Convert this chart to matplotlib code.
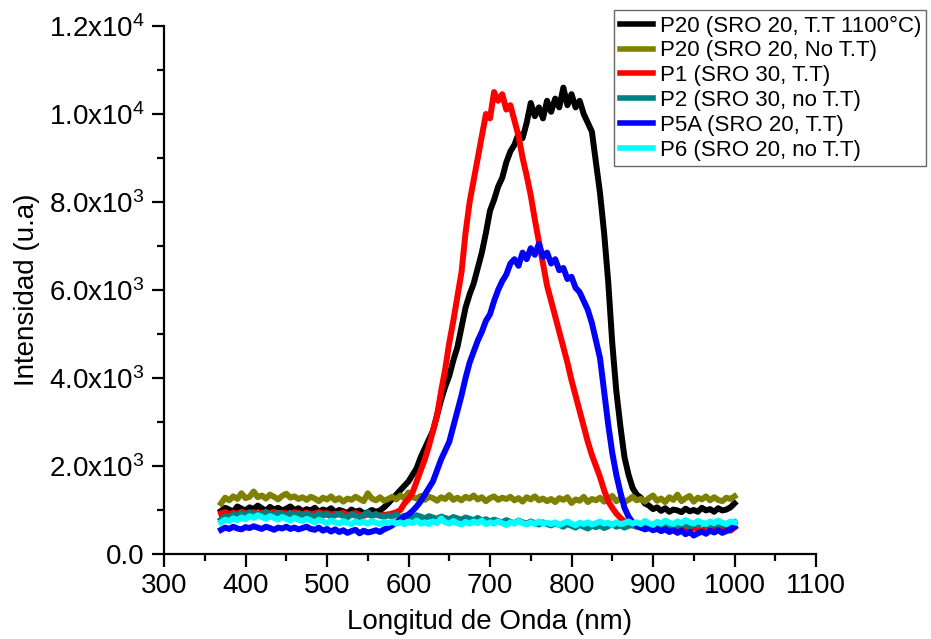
import numpy as np
import matplotlib.pyplot as plt
from matplotlib.ticker import MultipleLocator, FuncFormatter

plt.rcParams['font.family'] = ['Liberation Sans', 'DejaVu Sans']
plt.rcParams['mathtext.fontset'] = 'custom'
plt.rcParams['mathtext.rm'] = 'Liberation Sans'
plt.rcParams['mathtext.it'] = 'Liberation Sans'

# wavelength samples (nm), 370..1000 every 5 nm
wavelength = np.arange(370, 1001, 5)

p20_tt = [
    980, 1050, 1010, 960, 1080, 1030, 990, 1060, 1020, 1100, 1040, 980, 1070, 1010, 1050, 990, 1030, 1080, 1000, 1040, 970,
    1020, 990, 1050, 960, 1010, 980, 1040, 950, 1000, 970, 930, 1010, 960, 990, 920, 950, 1000, 960, 990, 1060,
    1150, 1250, 1350, 1450, 1550, 1650, 1800, 1950, 2200, 2400, 2600, 2800, 3150, 3500, 3800, 4050, 4400, 4700, 5150, 5600,
    5900, 6150, 6500, 6850, 7300, 7800, 8050, 8350, 8550, 8900, 9150, 9300, 9550, 9450, 9800, 10250, 9950, 10150, 9900, 10300,
    10050, 10350, 10150, 10600, 10200, 10450, 10150, 10300, 10000, 9800, 9600, 8900, 8200, 7300, 6200, 4800, 3700, 2900, 2200, 1800,
    1500, 1350, 1280, 1150, 1100, 1020, 1060, 980, 1040, 960, 1010, 990, 950, 1030, 970, 1000, 960, 1050, 990, 1020,
    960, 1040, 990, 1010, 1060, 1150,
]

p20_nott = [
    1150, 1280, 1220, 1310, 1250, 1380, 1270, 1300, 1420, 1290, 1330, 1260, 1350, 1300, 1240, 1320, 1370, 1280, 1310, 1250, 1290,
    1230, 1300, 1260, 1200, 1280, 1240, 1310, 1220, 1270, 1190, 1260, 1230, 1300, 1250, 1200, 1380, 1260, 1220, 1290, 1210,
    1250, 1300, 1240, 1330, 1270, 1400, 1290, 1260, 1320, 1230, 1300, 1270, 1210, 1290, 1250, 1340, 1230, 1280, 1220, 1300,
    1260, 1330, 1240, 1290, 1200, 1270, 1310, 1230, 1280, 1250, 1300, 1220, 1270, 1190, 1290, 1240, 1310, 1220, 1260, 1200,
    1250, 1180, 1270, 1230, 1290, 1160, 1240, 1210, 1300, 1180, 1250, 1220, 1280, 1190, 1240, 1320, 1200, 1260, 1180, 1230,
    1300, 1220, 1250, 1190, 1270, 1330, 1210, 1260, 1180, 1290, 1230, 1350, 1200, 1270, 1320, 1190, 1280, 1240, 1310, 1220,
    1290, 1230, 1200, 1280, 1250, 1310,
]

p1_tt = [
    920, 950, 900, 940, 910, 960, 930, 900, 950, 920, 940, 900, 930, 960, 910, 940, 920, 900, 950, 930, 910,
    940, 900, 920, 950, 910, 930, 890, 920, 900, 940, 880, 910, 930, 890, 870, 900, 880, 910, 870, 890,
    900, 920, 950, 1000, 1150, 1250, 1400, 1650, 1900, 2150, 2450, 2800, 3150, 3700, 4200, 4800, 5300, 5850, 6400, 7300,
    8000, 8500, 9000, 9500, 10000, 9900, 10500, 10300, 10450, 10100, 10200, 9850, 9500, 9000, 8600, 8150, 7600, 7100, 6600, 6100,
    5750, 5400, 5050, 4700, 4350, 3950, 3600, 3250, 2900, 2550, 2250, 2000, 1750, 1450, 1200, 1050, 920, 820, 740, 680,
    650, 620, 600, 580, 610, 570, 590, 560, 600, 550, 580, 540, 570, 590, 550, 600, 560, 530, 580, 550,
    570, 540, 590, 560, 530, 600,
]

p2_nott = [
    780, 850, 820, 900, 870, 930, 880, 950, 900, 920, 870, 960, 910, 880, 940, 900, 860, 930, 890, 920, 870,
    910, 880, 850, 920, 870, 900, 850, 880, 910, 860, 830, 900, 870, 840, 890, 950, 860, 900, 870, 840,
    880, 850, 900, 830, 870, 840, 820, 880, 850, 810, 860, 830, 800, 850, 820, 790, 840, 810, 780, 830,
    800, 770, 820, 760, 790, 740, 780, 750, 720, 770, 730, 700, 760, 720, 690, 740, 700, 670, 720, 680,
    650, 700, 660, 620, 680, 640, 600, 660, 620, 580, 640, 610, 650, 590, 630, 680, 620, 650, 600, 640,
    660, 620, 680, 640, 610, 670, 630, 690, 650, 620, 680, 640, 700, 660, 630, 690, 650, 710, 670, 640,
    690, 660, 700, 650, 680, 720,
]

p5a_tt = [
    550, 600, 570, 620, 580, 560, 610, 590, 630, 600, 570, 620, 590, 550, 600, 580, 620, 570, 600, 560, 590,
    620, 570, 550, 600, 530, 570, 510, 560, 500, 540, 480, 520, 550, 470, 530, 490, 510, 540, 500, 560,
    600, 650, 720, 780, 850, 900, 980, 1080, 1200, 1350, 1500, 1650, 1900, 2150, 2350, 2550, 2900, 3250, 3600, 4000,
    4350, 4600, 4850, 5050, 5300, 5450, 5750, 6000, 6200, 6350, 6600, 6700, 6550, 6850, 6700, 6950, 6800, 7050, 6750, 6850,
    6600, 6700, 6450, 6500, 6250, 6300, 6050, 5950, 5750, 5550, 5250, 4850, 4450, 3700, 2950, 2300, 1800, 1400, 1050, 850,
    720, 650, 600, 560, 590, 540, 570, 520, 560, 500, 540, 480, 530, 450, 500, 420, 470, 510, 460, 530,
    490, 540, 480, 520, 560, 620,
]

p6_nott = [
    720, 780, 750, 810, 770, 830, 790, 860, 820, 880, 840, 800, 860, 820, 780, 840, 800, 760, 820, 780, 750,
    800, 760, 720, 780, 740, 700, 760, 720, 690, 750, 710, 680, 740, 700, 730, 690, 750, 710, 680, 730,
    700, 740, 690, 720, 680, 730, 700, 760, 690, 720, 680, 740, 700, 810, 720, 690, 750, 700, 670, 730,
    690, 740, 700, 760, 680, 720, 690, 740, 700, 660, 720, 690, 750, 700, 670, 720, 680, 740, 690, 710,
    680, 720, 660, 700, 740, 690, 650, 710, 680, 720, 670, 700, 740, 690, 710, 660, 720, 680, 700, 740,
    690, 720, 680, 750, 700, 660, 730, 690, 760, 710, 680, 740, 700, 770, 720, 690, 750, 710, 680, 740,
    700, 760, 710, 680, 740, 720,
]

series = [
    (p20_tt, '#000000', 'P20 (SRO 20, T.T 1100°C)'),
    (p20_nott, '#808000', 'P20 (SRO 20, No T.T)'),
    (p1_tt, '#FF0000', 'P1 (SRO 30, T.T)'),
    (p2_nott, '#008080', 'P2 (SRO 30, no T.T)'),
    (p5a_tt, '#0000FF', 'P5A (SRO 20, T.T)'),
    (p6_nott, '#00FFFF', 'P6 (SRO 20, no T.T)'),
]

fig = plt.figure(figsize=(9.31, 6.39), dpi=100)
ax = fig.add_axes([164 / 931, 1 - 554 / 639, (816 - 164) / 931, (554 - 26) / 639])

for vals, col, lab in series:
    ax.plot(wavelength, vals, color=col, lw=4.3, label=lab, solid_joinstyle='round')

ax.set_xlim(300, 1100)
ax.set_ylim(0, 12000)
ax.xaxis.set_major_locator(MultipleLocator(100))
ax.xaxis.set_minor_locator(MultipleLocator(50))
ax.yaxis.set_major_locator(MultipleLocator(2000))
ax.yaxis.set_minor_locator(MultipleLocator(1000))


def sci_fmt(v, pos):
    if v == 0:
        return '0.0'
    e = int(np.floor(np.log10(abs(v))))
    m = v / 10 ** e
    return f'{m:.1f}x10$^{{{e}}}$'


ax.yaxis.set_major_formatter(FuncFormatter(sci_fmt))

for side in ('top', 'right'):
    ax.spines[side].set_visible(False)
for side in ('left', 'bottom'):
    ax.spines[side].set_linewidth(1.6)

ax.tick_params(which='major', direction='out', length=9, width=1.6, labelsize=20, pad=5)
ax.tick_params(which='minor', direction='out', length=5, width=1.6)

ax.set_xlabel('Longitud de Onda (nm)', fontsize=20, labelpad=7)
ax.set_ylabel('Intensidad (u.a)', fontsize=20, labelpad=6)

leg = fig.legend(loc='upper left', bbox_to_anchor=(614 / 931, 1 - 10 / 639),
                 fontsize=16, frameon=True, fancybox=False, borderaxespad=0,
                 handlelength=1.5, handletextpad=0.3, labelspacing=0.17,
                 borderpad=0.25)
leg.get_frame().set_edgecolor('#404040')
leg.get_frame().set_linewidth(1.0)
for h in leg.get_lines():
    h.set_linewidth(4)

fig.savefig('out.png', dpi=100)
